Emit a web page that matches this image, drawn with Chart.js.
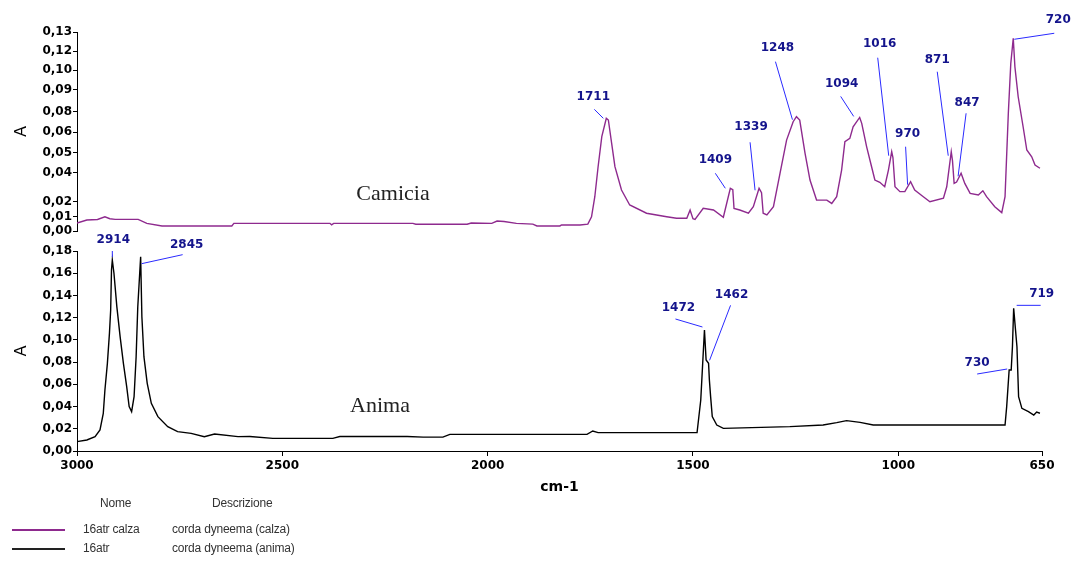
<!DOCTYPE html>
<html>
<head>
<meta charset="utf-8">
<script src="https://cdn.jsdelivr.net/npm/chart.js@4.4.1/dist/chart.umd.min.js"></script>
<style>
  html, body { margin: 0; padding: 0; background: #fff; }
  #wrap { position: relative; width: 1077px; height: 562px; overflow: hidden; }
  #wrap canvas { position: absolute; left: 0; top: 0; }
  .tag { position: absolute; font-family: "Liberation Serif", "DejaVu Serif", serif; font-size: 22px; color: #222; transform: translate(-50%, -50%); white-space: nowrap; }
  .leg { position: absolute; font-family: "Liberation Sans", Arial, sans-serif; font-size: 12px; color: #333; white-space: nowrap; letter-spacing: -0.2px; }
  .swatch { position: absolute; height: 2px; }
</style>
</head>
<body>
<div id="wrap">
  <canvas id="calza-chart" width="1077" height="562"></canvas>
  <canvas id="anima-chart" width="1077" height="562"></canvas>
  <div class="tag" style="left:393px; top:193px;">Camicia</div>
  <div class="tag" style="left:380px; top:405px;">Anima</div>
  <div class="leg" style="left:100px; top:496px;">Nome</div>
  <div class="leg" style="left:212px; top:496px;">Descrizione</div>
  <div class="swatch" style="left:12px; top:529px; width:53px; background:#8e2a8e;"></div>
  <div class="leg" style="left:83px; top:522px;">16atr calza</div>
  <div class="leg" style="left:172px; top:522px;">corda dyneema (calza)</div>
  <div class="swatch" style="left:12px; top:548px; width:53px; background:#222;"></div>
  <div class="leg" style="left:83px; top:541px;">16atr</div>
  <div class="leg" style="left:172px; top:541px;">corda dyneema (anima)</div>
</div>
<script>
// spectrum of the sheath (calza), wavenumber cm-1 / absorbance
const calzaWn = [3000, 2976, 2950, 2932, 2920, 2907, 2851, 2830, 2793, 2623, 2618, 2384, 2380, 2375, 2182, 2175,
  2050, 2040, 1990, 1977, 1960, 1930, 1890, 1880, 1824, 1820, 1775, 1756, 1747, 1739, 1731, 1722, 1711, 1706,
  1698, 1690, 1674, 1654, 1613, 1564, 1540, 1515, 1507, 1500, 1495, 1475, 1450, 1426, 1409, 1403, 1400, 1386,
  1365, 1353, 1339, 1333, 1329, 1320, 1304, 1288, 1272, 1256, 1248, 1240, 1227, 1215, 1199, 1174, 1162, 1150,
  1138, 1130, 1118, 1110, 1094, 1089, 1077, 1065, 1057, 1045, 1033, 1024, 1016, 1013, 1008, 996, 984, 970, 960,
  939, 923, 890, 882, 871, 868, 864, 858, 847, 838, 825, 805, 794, 785, 765, 748, 740, 732, 726, 720, 716, 708,
  696, 687, 675, 667, 655];
const calzaAbs = [0.0052, 0.0072, 0.0075, 0.0093, 0.0080, 0.0076, 0.0076, 0.0050, 0.0033, 0.0033, 0.0050, 0.0050,
  0.0040, 0.0050, 0.0050, 0.0044, 0.0044, 0.0052, 0.0050, 0.0065, 0.0062, 0.0050, 0.0045, 0.0033, 0.0033, 0.0040,
  0.0039, 0.0045, 0.0093, 0.0224, 0.0420, 0.0616, 0.0736, 0.0725, 0.0573, 0.0420, 0.0268, 0.0170, 0.0116, 0.0093,
  0.0083, 0.0083, 0.0137, 0.0080, 0.0076, 0.0148, 0.0137, 0.0090, 0.0279, 0.0270, 0.0148, 0.0137, 0.0116, 0.0159,
  0.0279, 0.0250, 0.0116, 0.0105, 0.0159, 0.0377, 0.0594, 0.0714, 0.0747, 0.0725, 0.0507, 0.0333, 0.0202, 0.0202,
  0.0180, 0.0224, 0.0398, 0.0583, 0.0605, 0.0681, 0.0742, 0.0703, 0.0550, 0.0420, 0.0333, 0.0318, 0.0289, 0.0398,
  0.0518, 0.0480, 0.0289, 0.0257, 0.0257, 0.0322, 0.0268, 0.0224, 0.0191, 0.0214, 0.0289, 0.0518, 0.0460, 0.0311,
  0.0320, 0.0377, 0.0311, 0.0246, 0.0235, 0.0263, 0.0224, 0.0159, 0.0120, 0.0224, 0.0769, 0.1095, 0.1259, 0.1073,
  0.0877, 0.0681, 0.0529, 0.0485, 0.0431, 0.0410];

// spectrum of the core (anima)
const animaWn = [3000, 2976, 2956, 2944, 2936, 2932, 2926, 2921, 2918, 2916, 2914, 2910, 2903, 2895, 2887, 2879,
  2873, 2867, 2861, 2856, 2852, 2845, 2842, 2837, 2829, 2819, 2803, 2779, 2755, 2722, 2690, 2665, 2608, 2579,
  2523, 2377, 2360, 2196, 2157, 2109, 2092, 1758, 1744, 1731, 1490, 1481, 1472, 1468, 1462, 1460, 1457, 1453,
  1442, 1426, 1264, 1183, 1150, 1126, 1093, 1061, 870, 769, 740, 736, 730, 725, 722, 719, 711, 707, 699, 683,
  670, 663, 655];
const animaAbs = [0.0084, 0.0099, 0.0129, 0.0189, 0.0339, 0.0549, 0.0789, 0.1059, 0.1269, 0.1629, 0.1719, 0.1600,
  0.1299, 0.1029, 0.0789, 0.0579, 0.0399, 0.0354, 0.0489, 0.0849, 0.1299, 0.1749, 0.1209, 0.0849, 0.0609, 0.0429,
  0.0309, 0.0219, 0.0174, 0.0159, 0.0129, 0.0153, 0.0129, 0.0130, 0.0114, 0.0114, 0.0130, 0.0130, 0.0125, 0.0125,
  0.0150, 0.0150, 0.0180, 0.0165, 0.0165, 0.0459, 0.1089, 0.0819, 0.0789, 0.0639, 0.0489, 0.0309, 0.0234, 0.0204,
  0.0219, 0.0234, 0.0255, 0.0273, 0.0258, 0.0234, 0.0234, 0.0234, 0.0234, 0.0399, 0.0729, 0.0729, 0.0939, 0.1284,
  0.0939, 0.0489, 0.0384, 0.0354, 0.0324, 0.0350, 0.0340];

// labelled peaks
const calzaPeaks = [1711, 1409, 1339, 1248, 1094, 1016, 970, 871, 847, 720];
const animaPeaks = [2914, 2845, 1472, 1462, 730, 719];

// axes
const xTicks = [3000, 2500, 2000, 1500, 1000, 650];
const calzaTickVals = [0.13, 0.1175, 0.105, 0.0925, 0.078, 0.0645, 0.051, 0.038, 0.019, 0.0095, 0];
const calzaTickLabels = ['0,13', '0,12', '0,10', '0,09', '0,08', '0,06', '0,05', '0,04', '0,02', '0,01', '0,00'];
const animaTickVals = [0.18, 0.16, 0.14, 0.12, 0.10, 0.08, 0.06, 0.04, 0.02, 0];
const animaTickLabels = ['0,18', '0,16', '0,14', '0,12', '0,10', '0,08', '0,06', '0,04', '0,02', '0,00'];

// label placement around each peak: [labelDx, labelDy, lineStartDx, lineStartDy, lineEndDx, lineEndDy]
const calzaLabelPos = [
  [-13, -21, -3, 0, -12, -9],
  [-15, -28, -5, 0, -15, -15],
  [-8, -61, -4, 2, -9, -46],
  [-19, -69, -4, 3, -21, -55],
  [-18, -34, -6, -1, -19, -21],
  [-12, -108, -3, 4, -14, -94],
  [-3, -48, -3, 3, -5, -35],
  [-14, -92, -3, 4, -14, -80],
  [6, -70, -3, 3, 5, -60],
  [45, -18, 1, 1, 41, -5]
];
const animaLabelPos = [
  [1, -20, 0, -3, 0, -9],
  [46, -12, 1, 7, 42, -2],
  [-26, -22, -2, -3, -29, -11],
  [23, -68, 1, -3, 22, -58],
  [-32, -7, -2, -1, -32, 4],
  [28, -14, 3, -3, 27, -3]
];

const tickFont = { family: '"DejaVu Sans", sans-serif', size: 12, weight: 'bold' };

const peakLabels = {
  id: 'peakLabels',
  afterDatasetsDraw(chart, args, opts) {
    const ctx = chart.ctx;
    const x = chart.scales.x, y = chart.scales.y;
    ctx.save();
    ctx.font = 'bold 12px "DejaVu Sans", sans-serif';
    ctx.textAlign = 'center';
    ctx.textBaseline = 'middle';
    opts.peaks.forEach((wn, i) => {
      const k = opts.wn.indexOf(wn);
      const px = x.getPixelForValue(wn);
      const py = y.getPixelForValue(opts.abs[k]);
      const p = opts.pos[i];
      ctx.strokeStyle = '#2a2aff';
      ctx.lineWidth = 1;
      ctx.beginPath();
      ctx.moveTo(px + p[2], py + p[3]);
      ctx.lineTo(px + p[4], py + p[5]);
      ctx.stroke();
      ctx.fillStyle = '#14148c';
      ctx.fillText(String(wn), px + p[0], py + p[1]);
    });
    ctx.restore();
  }
};

function points(wn, abs) {
  return wn.map((w, i) => ({ x: w, y: abs[i] }));
}

function yAxis(max, vals, labels) {
  return {
    min: 0,
    max: max,
    afterFit: s => { s.width = 77; },
    afterBuildTicks: s => { s.ticks = vals.map(v => ({ value: v })); },
    border: { display: true, color: '#000', width: 1 },
    grid: { drawOnChartArea: false, color: '#000', tickLength: 4 },
    ticks: {
      autoSkip: false,
      padding: 1,
      color: '#000',
      font: tickFont,
      callback: (v, i) => labels[i]
    },
    title: {
      display: true,
      text: 'A',
      color: '#000',
      padding: { top: 12, bottom: 0 },
      font: { family: '"Liberation Sans", Arial, sans-serif', size: 16 }
    }
  };
}

new Chart(document.getElementById('calza-chart'), {
  type: 'line',
  data: {
    datasets: [{
      data: points(calzaWn, calzaAbs),
      borderColor: '#8e2a8e',
      borderWidth: 1.4,
      pointRadius: 0,
      tension: 0
    }]
  },
  options: {
    responsive: false,
    animation: false,
    layout: { padding: { left: 0, right: 35, top: 32, bottom: 331 } },
    scales: {
      x: { type: 'linear', reverse: true, min: 650, max: 3000, display: false },
      y: yAxis(0.13, calzaTickVals, calzaTickLabels)
    },
    plugins: {
      legend: { display: false },
      tooltip: { enabled: false },
      peakLabels: { peaks: calzaPeaks, wn: calzaWn, abs: calzaAbs, pos: calzaLabelPos }
    }
  },
  plugins: [peakLabels]
});

new Chart(document.getElementById('anima-chart'), {
  type: 'line',
  data: {
    datasets: [{
      data: points(animaWn, animaAbs),
      borderColor: '#000',
      borderWidth: 1.4,
      pointRadius: 0,
      tension: 0
    }]
  },
  options: {
    responsive: false,
    animation: false,
    layout: { padding: { left: 0, right: 35, top: 251, bottom: 66 } },
    scales: {
      x: {
        type: 'linear',
        reverse: true,
        min: 650,
        max: 3000,
        afterFit: s => { s.height = 45; },
        afterBuildTicks: s => { s.ticks = xTicks.map(v => ({ value: v })); },
        border: { display: true, color: '#000', width: 1 },
        grid: { drawOnChartArea: false, color: '#000', tickLength: 5 },
        ticks: { autoSkip: false, maxRotation: 0, padding: 3, color: '#000', font: tickFont, callback: v => String(v) },
        title: {
          display: true,
          text: 'cm-1',
          color: '#000',
          padding: 0,
          font: { family: '"DejaVu Sans", sans-serif', size: 14, weight: 'bold' }
        }
      },
      y: yAxis(0.18, animaTickVals, animaTickLabels)
    },
    plugins: {
      legend: { display: false },
      tooltip: { enabled: false },
      peakLabels: { peaks: animaPeaks, wn: animaWn, abs: animaAbs, pos: animaLabelPos }
    }
  },
  plugins: [peakLabels]
});
</script>
</body>
</html>
